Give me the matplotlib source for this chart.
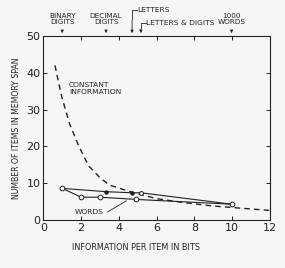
import matplotlib.pyplot as plt

# values
# constant information curve (dashed)
const_bits = [0.62, 0.8, 1.0, 1.4, 1.85, 2.4, 3.0, 3.5, 4.6, 6.0, 7.5, 9.0, 10.5, 12.0]
const_span = [42.0, 37.5, 33.0, 26.0, 20.4, 14.7, 11.5, 9.5, 7.7, 5.8, 4.7, 3.8, 3.2, 2.6]

# span for the test materials (upper line)
mat_bits = [1.0, 3.32, 4.7, 5.17, 9.97]
mat_span = [8.6, 7.7, 7.4, 7.4, 4.3]

# words line (lower line)
word_bits = [1.0, 2.0, 3.0, 4.9, 9.97]
word_span = [8.6, 6.2, 6.2, 5.6, 4.3]

ink = '#222222'
bg = '#f6f6f4'
plt.rcParams['font.family'] = 'DejaVu Sans'

fig = plt.figure(figsize=(2.85, 2.68), dpi=100, facecolor=bg)
ax = fig.add_axes([0.152, 0.179, 0.795, 0.687], facecolor=bg)

ax.plot(const_bits, const_span, color=ink, lw=1.0, dashes=(4, 3))
ax.plot(mat_bits, mat_span, color=ink, lw=0.8)
ax.plot(mat_bits[1:3], mat_span[1:3], 'o', color=ink, ms=2.2)
ax.plot(word_bits, word_span, color=ink, lw=0.8)
ax.plot(word_bits, word_span, 'o', mfc=bg, mec=ink, ms=3.4, mew=0.7)
ax.plot([mat_bits[3]], [mat_span[3]], 'o', mfc=bg, mec=ink, ms=2.8, mew=0.7)

ax.set_xlim(0, 12)
ax.set_ylim(0, 50)
ax.set_xticks(range(0, 13, 2))
ax.set_yticks(range(0, 51, 10))
ax.tick_params(direction='in', top=True, right=True, length=3, width=0.7,
               labelsize=8, colors=ink, pad=2)
for s in ax.spines.values():
    s.set_linewidth(0.8)
    s.set_color(ink)

ax.set_xlabel('INFORMATION PER ITEM IN BITS', fontsize=5.9, color=ink)
ax.xaxis.set_label_coords(0.41, -0.125)
ax.set_ylabel('NUMBER OF ITEMS IN MEMORY SPAN', fontsize=5.6, color=ink, labelpad=4)

ax.text(1.35, 37.5, 'CONSTANT\nINFORMATION', fontsize=5.4, color=ink,
        va='top', linespacing=1.15)

ax.text(1.65, 2.2, 'WORDS', fontsize=5.4, color=ink, va='center')
ax.plot([3.4, 4.4], [2.2, 5.2], color=ink, lw=0.6)

# top labels with arrows down to the axis
arrow = dict(arrowstyle='-|>', color=ink, lw=0.6, mutation_scale=4)
for xv, lab in [(1.0, 'BINARY\nDIGITS'), (3.32, 'DECIMAL\nDIGITS'), (9.97, '1000\nWORDS')]:
    ax.annotate(lab, xy=(xv, 50), xytext=(xv, 53.0), textcoords='data',
                ha='center', va='bottom', fontsize=5.2, color=ink,
                linespacing=1.0, arrowprops=arrow, annotation_clip=False)

# bracket labels for letters
ax.annotate('', xy=(4.7, 50), xytext=(4.7, 55), arrowprops=arrow,
            annotation_clip=False)
ax.plot([4.7, 4.7, 4.95], [54.5, 57.0, 57.0], color=ink, lw=0.6, clip_on=False)
ax.text(4.95, 57.0, 'LETTERS', fontsize=5.4, color=ink, va='center')

ax.annotate('', xy=(5.17, 50), xytext=(5.17, 52.6), arrowprops=arrow,
            annotation_clip=False)
ax.plot([5.17, 5.17, 5.45], [52.2, 53.6, 53.6], color=ink, lw=0.6, clip_on=False)
ax.text(5.45, 53.6, 'LETTERS & DIGITS', fontsize=5.4, color=ink, va='center')

fig.savefig('out.png', dpi=100, facecolor=fig.get_facecolor())
